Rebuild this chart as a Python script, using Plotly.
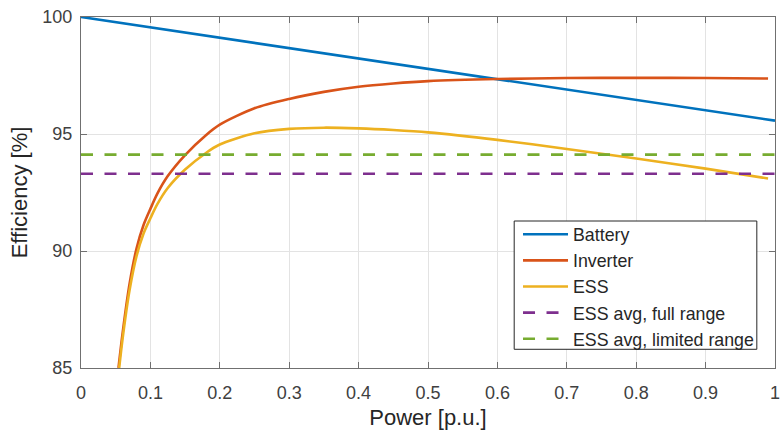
import plotly.graph_objects as go

# ---- data ----
battery_p = [0.0, 0.25, 0.5, 0.75, 1.0]
battery_eff = [100.0, 98.89, 97.78, 96.68, 95.57]

inverter_p = [0.054, 0.06, 0.07, 0.08, 0.09, 0.10, 0.11, 0.125, 0.15, 0.18, 0.20,
              0.25, 0.30, 0.35, 0.40, 0.45, 0.50, 0.60, 0.70, 0.80, 0.90, 0.99]
inverter_eff = [85.0, 86.5, 88.6, 90.1, 91.1, 91.8, 92.45, 93.2, 94.1, 94.95, 95.4,
                96.1, 96.5, 96.8, 97.02, 97.16, 97.26, 97.35, 97.39, 97.40, 97.39, 97.37]

ess_p = [0.055, 0.06, 0.07, 0.08, 0.09, 0.10, 0.11, 0.125, 0.15, 0.18, 0.20,
         0.25, 0.30, 0.35, 0.40, 0.45, 0.50, 0.60, 0.70, 0.80, 0.90, 0.99]
ess_eff = [85.0, 86.27, 88.33, 89.78, 90.74, 91.4, 92.0, 92.69, 93.48, 94.19, 94.55,
           95.03, 95.22, 95.27, 95.24, 95.17, 95.07, 94.75, 94.36, 93.95, 93.52, 93.1]

avg_p = [0.0, 1.0]
ess_avg_full = [93.3, 93.3]
ess_avg_limited = [94.12, 94.12]

x_ticks = [0, 0.1, 0.2, 0.3, 0.4, 0.5, 0.6, 0.7, 0.8, 0.9, 1]
x_tick_labels = ["0", "0.1", "0.2", "0.3", "0.4", "0.5", "0.6", "0.7", "0.8", "0.9", "1"]
y_ticks = [85, 90, 95, 100]

FONT = "Liberation Sans, Arial, sans-serif"
TXT = "#262626"

fig = go.Figure()
fig.add_trace(go.Scatter(x=battery_p, y=battery_eff, mode="lines", name="Battery",
                         line=dict(color="#0072BD", width=2.6)))
fig.add_trace(go.Scatter(x=inverter_p, y=inverter_eff, mode="lines", name="Inverter",
                         line=dict(color="#D95319", width=2.6, shape="spline", smoothing=0.8)))
fig.add_trace(go.Scatter(x=ess_p, y=ess_eff, mode="lines", name="ESS",
                         line=dict(color="#EDB120", width=2.6, shape="spline", smoothing=0.8)))
fig.add_trace(go.Scatter(x=avg_p, y=ess_avg_full, mode="lines", name="ESS avg, full range",
                         line=dict(color="#7E2F8E", width=2.6, dash="12px,11.5px")))
fig.add_trace(go.Scatter(x=avg_p, y=ess_avg_limited, mode="lines", name="ESS avg, limited range",
                         line=dict(color="#77AC30", width=2.6, dash="12px,11.5px")))

axis_common = dict(
    showline=True, linecolor="#707070", linewidth=1, mirror="allticks",
    ticks="inside", ticklen=6, tickcolor="#707070", tickwidth=1,
    showgrid=True, gridcolor="#e3e3e3", gridwidth=1, zeroline=False,
    tickfont=dict(family=FONT, size=18, color="#404040"),
)

fig.update_xaxes(range=[0, 1], tickvals=x_ticks, ticktext=x_tick_labels,
                 title=dict(text="Power [p.u.]", font=dict(family=FONT, size=22, color=TXT), standoff=8),
                 ticklabelstandoff=8, ticklabeloverflow="allow", **axis_common)
fig.update_yaxes(range=[85, 100], tickvals=y_ticks,
                 title=dict(text="Efficiency [%]", font=dict(family=FONT, size=22, color=TXT), standoff=8),
                 ticklabelstandoff=4, **axis_common)

# legend frame (drawn as a shape so its size matches the reference)
fig.add_shape(type="rect", xref="paper", yref="paper",
              x0=0.6242, x1=0.9738, y0=0.0533, y1=0.4188,
              fillcolor="white", line=dict(color="#262626", width=1), layer="above")

fig.update_layout(
    width=781, height=435,
    margin=dict(l=81, r=1, t=17, b=67),
    paper_bgcolor="white", plot_bgcolor="white",
    font=dict(family=FONT, color=TXT),
    showlegend=True,
    legend=dict(x=0.6297, y=0.031, xanchor="left", yanchor="bottom",
                bgcolor="rgba(0,0,0,0)", borderwidth=0,
                font=dict(family=FONT, size=17.8, color=TXT),
                itemwidth=45, tracegroupgap=0),
)

fig.write_html("out.html")
